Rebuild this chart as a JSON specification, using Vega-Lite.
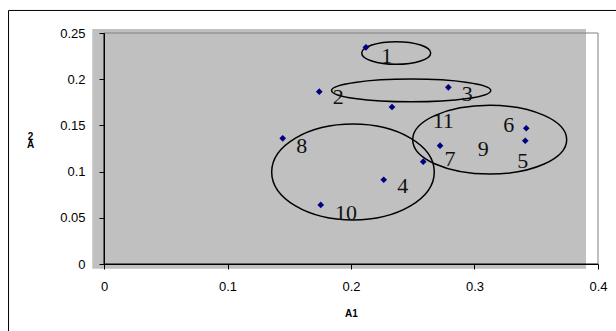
{
  "$schema": "https://vega.github.io/schema/vega-lite/v6.json",
  "width": 494,
  "height": 231,
  "autosize": {"type": "none"},
  "padding": {"left": 104, "top": 33, "right": 18, "bottom": 67},
  "background": "white",
  "config": {
    "view": {"stroke": null},
    "axis": {
      "grid": false,
      "domainColor": "#000000",
      "domainWidth": 1,
      "tickColor": "#000000",
      "tickSize": 5,
      "labelFlush": false,
      "labelFont": "Liberation Sans",
      "labelFontSize": 13,
      "labelColor": "#000000",
      "titleFont": "Liberation Sans",
      "titleFontSize": 10,
      "titleFontWeight": "bold",
      "titleColor": "#000000"
    }
  },
  "datasets": {
    "points": [
      {"a1": 0.2121, "a2": 0.2345},
      {"a1": 0.1743, "a2": 0.1865},
      {"a1": 0.2788, "a2": 0.1912},
      {"a1": 0.2332, "a2": 0.1699},
      {"a1": 0.1447, "a2": 0.1360},
      {"a1": 0.2721, "a2": 0.1280},
      {"a1": 0.2585, "a2": 0.1107},
      {"a1": 0.2265, "a2": 0.0912},
      {"a1": 0.1755, "a2": 0.0639},
      {"a1": 0.3419, "a2": 0.1469},
      {"a1": 0.3411, "a2": 0.1334}
    ],
    "labels": [
      {"label": "1", "a1": 0.2289, "a2": 0.2178},
      {"label": "2", "a1": 0.1897, "a2": 0.1734},
      {"label": "3", "a1": 0.2942, "a2": 0.1769},
      {"label": "11", "a1": 0.2747, "a2": 0.1474},
      {"label": "6", "a1": 0.3277, "a2": 0.1431},
      {"label": "9", "a1": 0.3071, "a2": 0.1168},
      {"label": "5", "a1": 0.3390, "a2": 0.1041},
      {"label": "7", "a1": 0.2802, "a2": 0.1060},
      {"label": "8", "a1": 0.1601, "a2": 0.1203},
      {"label": "4", "a1": 0.2419, "a2": 0.0763},
      {"label": "10", "a1": 0.1960, "a2": 0.0471}
    ],
    "clusters": [
      {"cluster": "E1", "a1": 0.2366, "a2": 0.2284},
      {"cluster": "E2", "a1": 0.2487, "a2": 0.1878},
      {"cluster": "E3", "a1": 0.3123, "a2": 0.1345},
      {"cluster": "E4", "a1": 0.2016, "a2": 0.0996}
    ]
  },
  "layer": [
    {
      "data": {"values": [{}]},
      "mark": {"type": "rect", "fill": "#c0c0c0", "stroke": null, "clip": false},
      "encoding": {
        "x": {"datum": -0.0095, "type": "quantitative", "scale": {"domain": [0, 0.4], "nice": false, "zero": false},
              "axis": {"title": "A1", "values": [0, 0.1, 0.2, 0.3, 0.4], "format": "~g", "labelPadding": 11, "zindex": 2,
                       "titleBaseline": "alphabetic", "titleY": 52, "titleX": 247, "titleAlign": "center"}},
        "x2": {"datum": 0.3903},
        "y": {"datum": -0.0051, "type": "quantitative", "scale": {"domain": [0, 0.25], "nice": false, "zero": false},
              "axis": {"title": ["2", "A"], "values": [0, 0.05, 0.1, 0.15, 0.2, 0.25], "format": "~g", "labelPadding": 14, "zindex": 2,
                       "titleAngle": 0, "titleAlign": "center", "titleBaseline": "top", "titleX": -74, "titleY": 98, "titleLineHeight": 8}},
        "y2": {"datum": 0.2543}
      }
    },
    {
      "data": {"values": [{}]},
      "mark": {"type": "rule", "color": "#808080", "strokeWidth": 1, "clip": false},
      "encoding": {
        "x": {"datum": 0, "type": "quantitative"},
        "x2": {"datum": 0.4},
        "y": {"datum": 0.25, "type": "quantitative"}
      }
    },
    {
      "data": {"values": [{}]},
      "mark": {"type": "rule", "color": "#808080", "strokeWidth": 1, "clip": false},
      "encoding": {
        "x": {"datum": 0.4, "type": "quantitative"},
        "y": {"datum": 0, "type": "quantitative"},
        "y2": {"datum": 0.25}
      }
    },
    {
      "data": {"values": [{}]},
      "mark": {"type": "rule", "color": "#000000", "strokeWidth": 1, "clip": false},
      "encoding": {
        "x": {"datum": 0, "type": "quantitative"},
        "y": {"datum": 0, "type": "quantitative"},
        "y2": {"datum": 0.25}
      }
    },
    {
      "data": {"values": [{}]},
      "mark": {"type": "rule", "color": "#000000", "strokeWidth": 1, "clip": false},
      "encoding": {
        "x": {"datum": 0, "type": "quantitative"},
        "x2": {"datum": 0.4},
        "y": {"datum": 0, "type": "quantitative"}
      }
    },
    {
      "data": {"values": [{}]},
      "mark": {"type": "rule", "color": "#000000", "strokeWidth": 1, "clip": false},
      "encoding": {
        "x": {"datum": -0.0773, "type": "quantitative"},
        "y": {"datum": -0.1, "type": "quantitative"},
        "y2": {"datum": 0.2744}
      }
    },
    {
      "data": {"values": [{}]},
      "mark": {"type": "rule", "color": "#000000", "strokeWidth": 1, "clip": false},
      "encoding": {
        "x": {"datum": -0.0773, "type": "quantitative"},
        "x2": {"datum": 0.43},
        "y": {"datum": 0.2744, "type": "quantitative"}
      }
    },
    {
      "data": {"name": "clusters"},
      "mark": {"type": "point", "filled": false, "stroke": "#000000", "strokeWidth": 1.5, "opacity": 1, "size": 4, "clip": false},
      "encoding": {
        "x": {"field": "a1", "type": "quantitative"},
        "y": {"field": "a2", "type": "quantitative"},
        "shape": {
          "field": "cluster", "type": "nominal", "legend": null,
          "scale": {
            "domain": ["E1", "E2", "E3", "E4"],
            "range": [
              "M -34.5 0 A 34.5 11.3 0 1 0 34.5 0 A 34.5 11.3 0 1 0 -34.5 0 Z",
              "M -79.6 0 A 79.6 11.4 0 1 0 79.6 0 A 79.6 11.4 0 1 0 -79.6 0 Z",
              "M -77 0 A 77 34.4 0 1 0 77 0 A 77 34.4 0 1 0 -77 0 Z",
              "M -81.3 0 A 81.3 48 0 1 0 81.3 0 A 81.3 48 0 1 0 -81.3 0 Z"
            ]
          }
        }
      }
    },
    {
      "data": {"name": "points"},
      "mark": {"type": "point", "shape": "diamond", "filled": true, "color": "#000080", "size": 45, "opacity": 1},
      "encoding": {
        "x": {"field": "a1", "type": "quantitative"},
        "y": {"field": "a2", "type": "quantitative"}
      }
    },
    {
      "data": {"name": "labels"},
      "mark": {"type": "text", "font": "Liberation Serif", "fontSize": 22, "color": "#111111", "align": "center", "baseline": "alphabetic"},
      "encoding": {
        "x": {"field": "a1", "type": "quantitative"},
        "y": {"field": "a2", "type": "quantitative"},
        "text": {"field": "label", "type": "nominal"}
      }
    }
  ]
}
